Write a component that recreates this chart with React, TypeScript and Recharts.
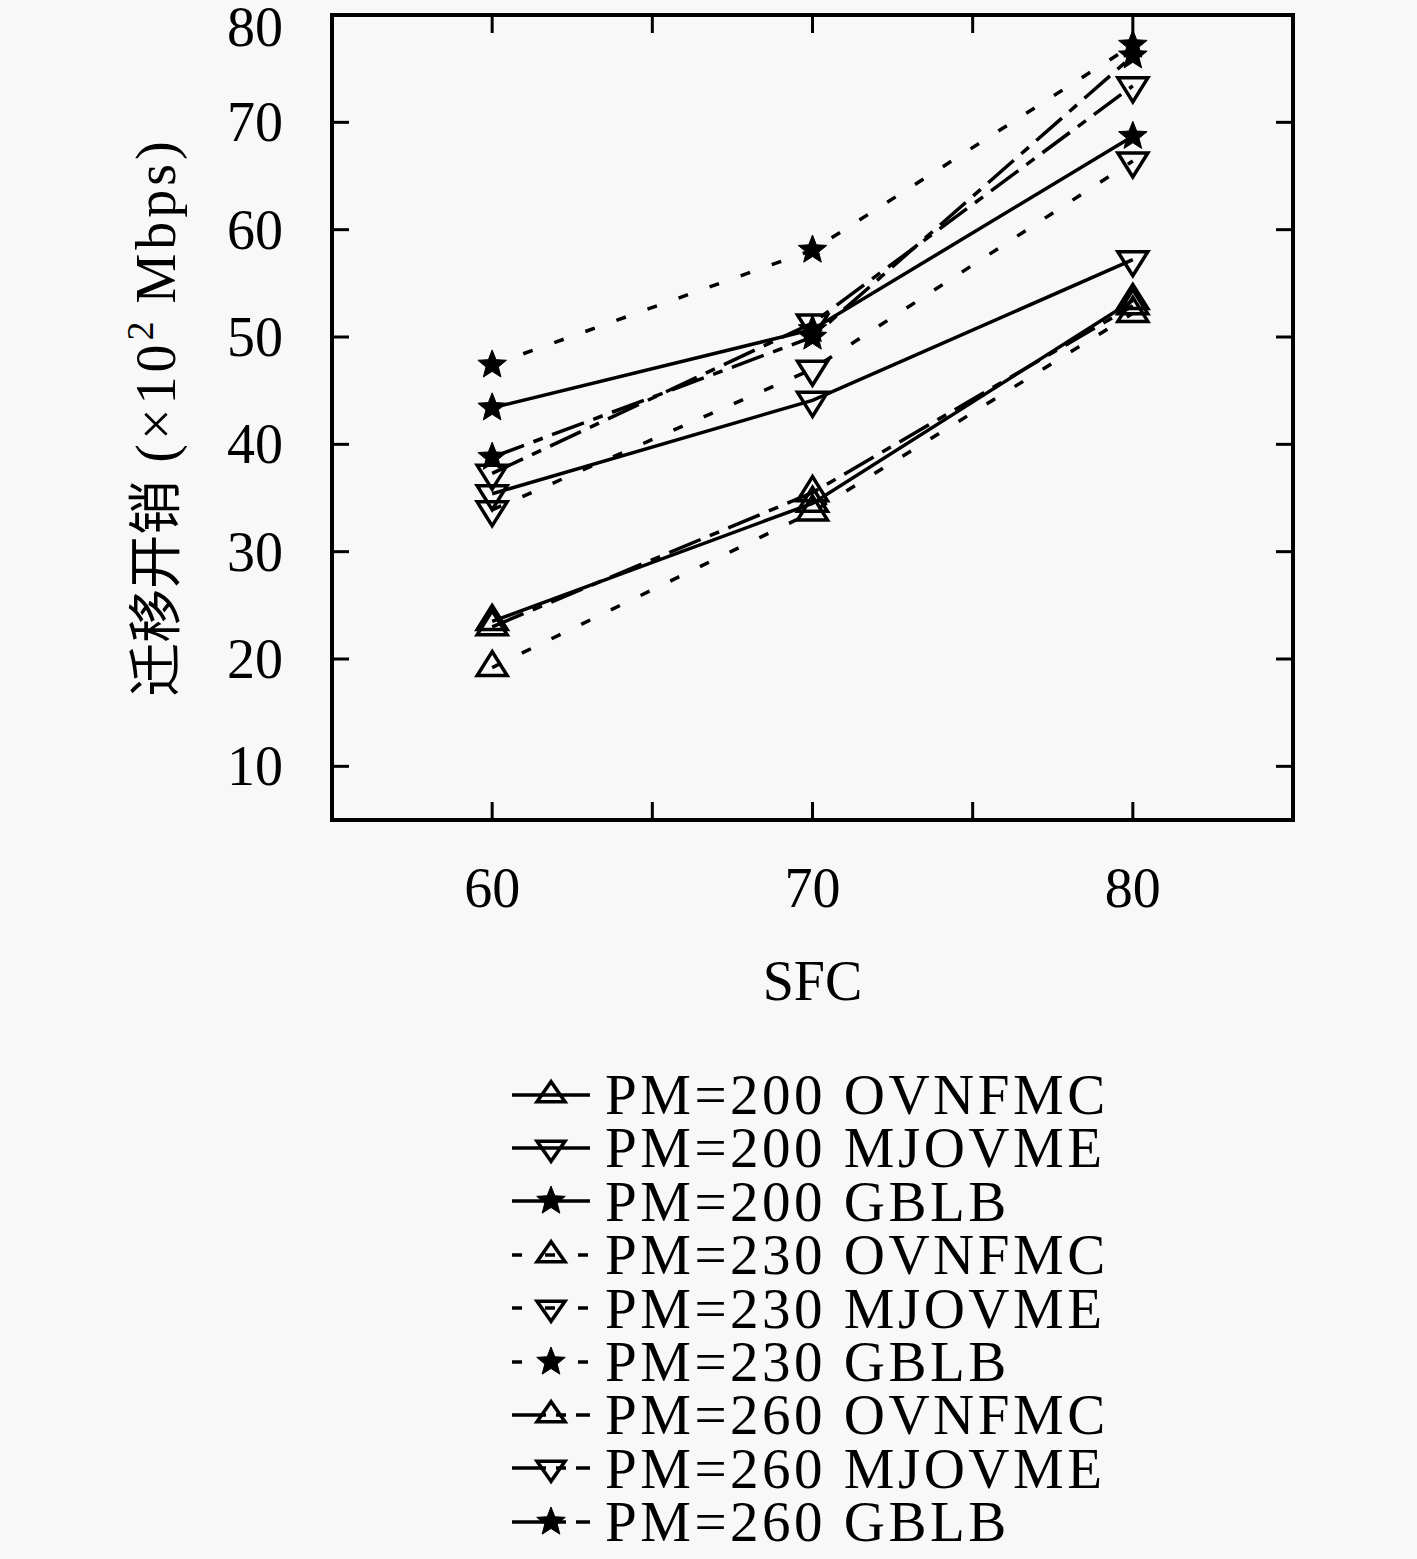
import React from 'react'
import { LineChart, Line, XAxis, YAxis, ReferenceArea, Legend } from 'recharts'

// x: number of SFCs, y: migration cost (x10^2 Mbps)
const SFC = [60, 70, 80]

const PM200_OVNFMC = [23.5, 34.5, 53.4]
const PM200_MJOVME = [35.4, 44.1, 57.2]
const PM200_GBLB = [43.4, 50.7, 68.7]
const PM230_OVNFMC = [19.2, 33.7, 52.2]
const PM230_MJOVME = [33.9, 47.0, 66.4]
const PM230_GBLB = [47.4, 58.1, 77.2]
const PM260_OVNFMC = [23.0, 35.5, 52.9]
const PM260_MJOVME = [37.3, 51.3, 73.4]
const PM260_GBLB = [38.8, 50.0, 76.2]

const X_TICKS = [60, 65, 70, 75, 80]
const Y_TICKS = [10, 20, 30, 40, 50, 60, 70, 80]

const SOLID = undefined
const SHORT = '10 23'
const LONG = '34 10 10 10'

const SERIES = [
  { key: 'p200o', name: 'PM=200 OVNFMC', values: PM200_OVNFMC, dash: SOLID, marker: 'up' },
  { key: 'p200m', name: 'PM=200 MJOVME', values: PM200_MJOVME, dash: SOLID, marker: 'down' },
  { key: 'p200g', name: 'PM=200 GBLB', values: PM200_GBLB, dash: SOLID, marker: 'star' },
  { key: 'p230o', name: 'PM=230 OVNFMC', values: PM230_OVNFMC, dash: SHORT, marker: 'up' },
  { key: 'p230m', name: 'PM=230 MJOVME', values: PM230_MJOVME, dash: SHORT, marker: 'down' },
  { key: 'p230g', name: 'PM=230 GBLB', values: PM230_GBLB, dash: SHORT, marker: 'star' },
  { key: 'p260o', name: 'PM=260 OVNFMC', values: PM260_OVNFMC, dash: LONG, marker: 'up' },
  { key: 'p260m', name: 'PM=260 MJOVME', values: PM260_MJOVME, dash: LONG, marker: 'down' },
  { key: 'p260g', name: 'PM=260 GBLB', values: PM260_GBLB, dash: LONG, marker: 'star' },
]

const data = SFC.map((x, i) => {
  const row: any = { sfc: x }
  SERIES.forEach((s) => (row[s.key] = s.values[i]))
  return row
})

const W = 1417
const H = 1559
const PLOT_L = 332
const PLOT_R = 1293
const PLOT_T = 15
const PLOT_B = 820
const SERIF = "'Liberation Serif', 'Times New Roman', serif"
const LW = 3.5

function starPoints(cx: number, cy: number, ro: number, ri: number) {
  const pts: string[] = []
  for (let i = 0; i < 10; i++) {
    const r = i % 2 === 0 ? ro : ri
    const a = -Math.PI / 2 + (i * Math.PI) / 5
    pts.push(`${cx + r * Math.cos(a)},${cy + r * Math.sin(a)}`)
  }
  return pts.join(' ')
}

const Marker = ({ cx, cy, shape, small }: any) => {
  if (cx == null || cy == null) return null
  const hw = small ? 14 : 15
  const h = small ? 20 : 24
  if (shape === 'up') {
    return (
      <polygon
        points={`${cx},${cy - (h * 2) / 3} ${cx - hw},${cy + h / 3} ${cx + hw},${cy + h / 3}`}
        fill="none"
        stroke="#000"
        strokeWidth={3.5}
      />
    )
  }
  if (shape === 'down') {
    return (
      <polygon
        points={`${cx},${cy + (h * 2) / 3} ${cx - hw},${cy - h / 3} ${cx + hw},${cy - h / 3}`}
        fill="none"
        stroke="#000"
        strokeWidth={3.5}
      />
    )
  }
  return <polygon points={starPoints(cx, cy, 15, 6.5)} fill="#000" stroke="#000" strokeWidth={1} />
}

const YTick = ({ y, payload }: any) => (
  <g>
    <line x1={PLOT_L} x2={PLOT_L + 17} y1={y} y2={y} stroke="#000" strokeWidth={3} />
    <line x1={PLOT_R - 17} x2={PLOT_R} y1={y} y2={y} stroke="#000" strokeWidth={3} />
    <text
      x={283}
      y={Math.max(y, 27)}
      textAnchor="end"
      dominantBaseline="central"
      fontFamily={SERIF}
      fontSize={56}
      fill="#000"
    >
      {payload.value}
    </text>
  </g>
)

const XTick = ({ x, payload }: any) => (
  <g>
    <line x1={x} x2={x} y1={PLOT_B} y2={PLOT_B - 18} stroke="#000" strokeWidth={3} />
    <line x1={x} x2={x} y1={PLOT_T} y2={PLOT_T + 18} stroke="#000" strokeWidth={3} />
    {payload.value % 10 === 0 && (
      <text
        x={x}
        y={888}
        textAnchor="middle"
        dominantBaseline="central"
        fontFamily={SERIF}
        fontSize={56}
        fill="#000"
      >
        {payload.value}
      </text>
    )}
  </g>
)

const YLabel = () => {
  const cx = 175
  const cy = 417
  return (
    <text
      x={cx}
      y={cy}
      transform={`rotate(-90 ${cx} ${cy})`}
      textAnchor="middle"
      fontFamily={SERIF}
      fontSize={56}
      fill="#000"
    >
      <tspan fontFamily="'Noto Sans CJK SC'" fontSize={54}>迁移开销</tspan>
      <tspan letterSpacing={4}> (×10</tspan>
      <tspan dy={-22} fontSize={38}>2</tspan>
      <tspan dy={22} letterSpacing={4}> Mbps)</tspan>
    </text>
  )
}

// legend keeps the series order, not the library's sorted payload
const renderLegend = () => (
  <div style={{ display: 'flex', flexDirection: 'column' }}>
    {SERIES.map((s) => (
      <div key={s.key} style={{ display: 'flex', alignItems: 'center', height: 53.4 }}>
        <svg width={90} height={50} style={{ flex: 'none' }}>
          <line x1={4} x2={82} y1={25} y2={25} stroke="#000" strokeWidth={LW} strokeDasharray={s.dash} />
          <Marker cx={43} cy={25} shape={s.marker} small />
        </svg>
        <span
          style={{
            fontFamily: SERIF,
            fontSize: 57,
            letterSpacing: 3.5,
            lineHeight: '53.4px',
            marginLeft: 7,
            whiteSpace: 'nowrap',
            color: '#000',
          }}
        >
          {s.name}
        </span>
      </div>
    ))}
  </div>
)

export default function App() {
  return (
    <div style={{ position: 'absolute', left: 0, top: 0, width: W, height: H, background: '#f8f8f8' }}>
      <LineChart width={W} height={H} data={data} margin={{ top: PLOT_T, right: W - PLOT_R, bottom: 0, left: 0 }}>
        <XAxis
          dataKey="sfc"
          type="number"
          domain={[55, 85]}
          ticks={X_TICKS}
          height={H - PLOT_B}
          axisLine={false}
          tickLine={false}
          tick={<XTick />}
          interval={0}
        />
        <YAxis
          type="number"
          domain={[5, 80]}
          ticks={Y_TICKS}
          width={PLOT_L}
          axisLine={false}
          tickLine={false}
          tick={<YTick />}
          interval={0}
          label={{ content: () => <YLabel /> }}
        />
        <ReferenceArea x1={55} x2={85} y1={5} y2={80} fill="none" stroke="#000" strokeWidth={4} ifOverflow="visible" />
        {/* x-axis title */}
        <ReferenceArea
          x1={55}
          x2={85}
          y1={5}
          y2={5}
          fill="none"
          stroke="none"
          ifOverflow="visible"
          label={{ value: 'SFC', position: 'bottom', offset: 140, fontFamily: SERIF, fontSize: 56, fill: '#000' }}
        />
        {SERIES.map((s) => (
          <Line
            key={s.key}
            dataKey={s.key}
            name={s.name}
            stroke="#000"
            strokeWidth={LW}
            strokeDasharray={s.dash}
            isAnimationActive={false}
            activeDot={false}
            dot={(p: any) => <Marker key={`${s.key}-${p.index}`} cx={p.cx} cy={p.cy} shape={s.marker} />}
          />
        ))}
        <Legend
          layout="vertical"
          align="center"
          verticalAlign="middle"
          content={renderLegend}
          wrapperStyle={{ left: 508, top: 1068, width: 700, height: 490 }}
        />
      </LineChart>
    </div>
  )
}
